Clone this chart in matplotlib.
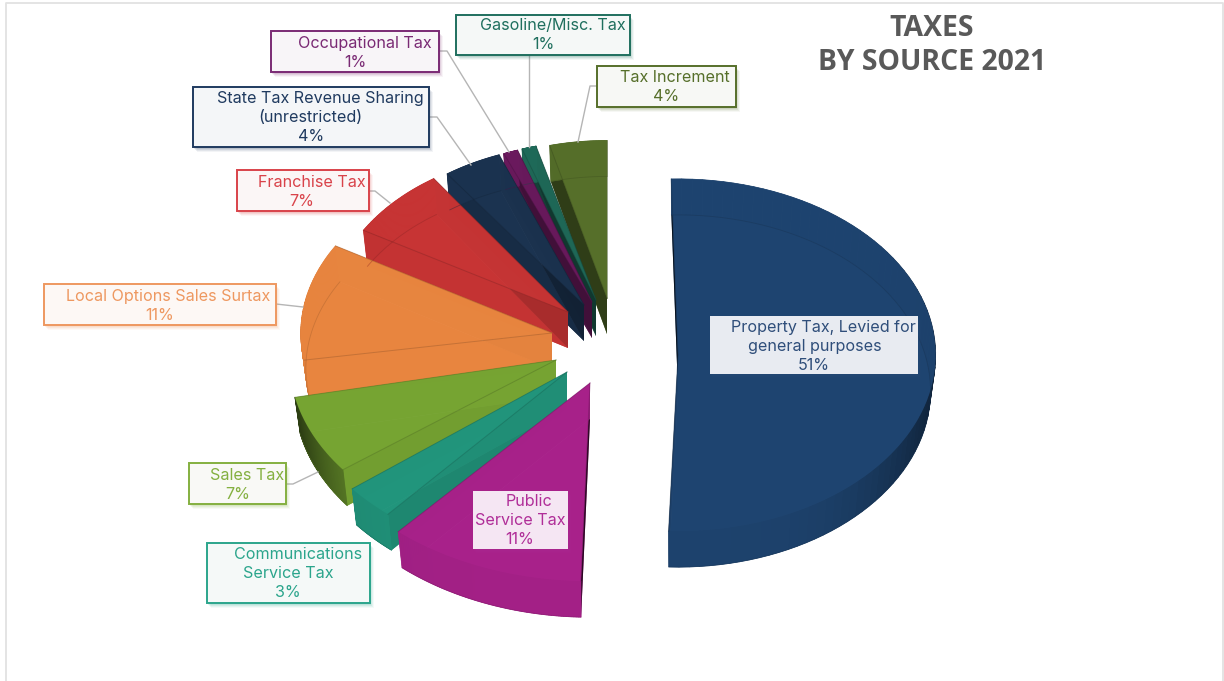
import numpy as np
import matplotlib
matplotlib.use("Agg")
import matplotlib.pyplot as plt
from matplotlib.patches import Polygon, Rectangle
from matplotlib.colors import to_rgb

categories = [
    "Property Tax, Levied for\ngeneral purposes",
    "Public\nService Tax",
    "Communications\nService Tax",
    "Sales Tax",
    "Local Options Sales Surtax",
    "Franchise Tax",
    "State Tax Revenue Sharing\n(unrestricted)",
    "Occupational Tax",
    "Gasoline/Misc. Tax",
    "Tax Increment",
]
percent = [51, 11, 3, 7, 11, 7, 4, 1, 1, 4]

colors = ["#1E4470", "#A8218A", "#21957C", "#76A432", "#E8853F",
          "#C73434", "#1B3350", "#6B1A5E", "#1F6A59", "#566F2A"]
text_colors = ["#2F4E7A", "#B02E98", "#2BA58C", "#84B040", "#EE9860",
               "#D9434A", "#1F3A5F", "#7A2A74", "#1F6F5E", "#566F2A"]
box_fills = ["#E8EBF1", "#F5E6F3", "#F5F9F8", "#F9F9F6", "#FDF8F5",
             "#FBF6F6", "#F4F6F8", "#F8F5F8", "#F5F8F7", "#F7F8F5"]

# each slice is pulled out from the middle of the pie and drawn nearer/farther
apex_x = [678, 590, 567, 556, 552, 568, 584, 592, 596, 607]
apex_y = [355, 383, 372, 360, 333, 312, 305, 302, 300, 298]
scale = [0.995, 1.12, 1.06, 1.03, 0.97, 0.915, 0.91, 0.905, 0.9, 0.89]
twist = [0, -0.3, -1, 0.5, 3.2, 3, 2, 1, 1, 1.5]
rim_shade = [0.45, 0.1, 0.1, 0.65, 0.0, 0.0, 0.0, 0.0, 0.0, 0.0]
draw_order = [9, 8, 7, 6, 5, 4, 3, 2, 1, 0]

radius_x = 259
radius_y = 177
depth = 36
start_angle = -1.5

# label boxes: x0, y0, x1, y1
boxes = [
    (710, 316, 918, 374), (473, 491, 568, 549), (207, 543, 370, 603),
    (189, 463, 286, 504), (44, 284, 276, 325), (237, 170, 369, 211),
    (193, 87, 429, 147), (271, 31, 439, 72), (456, 15, 630, 55),
    (597, 66, 736, 107),
]
# centre x of each text line and y of the first line
line_x = [
    (823, 815, 814), (529, 520, 520), (298, 288, 288), (247, 238),
    (168, 160), (312, 302), (320, 310, 311), (365, 355), (553, 543),
    (675, 666),
]
line_y = [327.5, 501.5, 554.5, 475.5, 296.5, 182.5, 98.5, 43.5, 25.5, 77.5]
line_step = 19

leaders = [
    [(529, 55), (529, 147)],
    [(439, 51), (447, 51), (509, 152)],
    [(429, 117), (437, 117), (471, 165)],
    [(369, 191), (375, 191), (390, 203)],
    [(276, 304), (303, 307)],
    [(286, 484), (293, 484), (318, 472)],
    [(597, 86), (590, 86), (578, 142)],
]


def darken(color, amount):
    return tuple(c * (1 - amount) for c in to_rgb(color))


def wall_dark(theta):
    s = abs(np.sin(np.radians(theta)))
    return 0.85 * (1 - s) ** 2


def arc(i, t, shrink=1.0, drop=0):
    # lower rim sits a little narrower than the top one, same height
    r = np.radians(t)
    x = apex_x[i] + radius_x * scale[i] * shrink * np.sin(r)
    y = apex_y[i] - radius_y * scale[i] * np.cos(r) + drop
    return x, y


fig = plt.figure(figsize=(12.24, 6.81), dpi=100)
ax = fig.add_axes([0, 0, 1, 1])
ax.set_xlim(0, 1224)
ax.set_ylim(681, 0)
ax.axis("off")

# frame of the chart area
ax.plot([6, 6, 1222.5, 1222.5], [681, 2.5, 2.5, 681], color="#E2E2E2", lw=1.3)

edges = np.cumsum([0] + percent) / sum(percent) * 360 + start_angle

for i in draw_order:
    c = colors[i]
    a0, a1 = edges[i] + twist[i], edges[i + 1] + twist[i]
    t = np.linspace(a0, a1, 80)
    xt, yt = arc(i, t)
    xb, yb = arc(i, t, 0.98, depth)
    ax0, ay0 = apex_x[i], apex_y[i]

    # underside
    ax.add_patch(Polygon(np.c_[np.r_[ax0, xb], np.r_[ay0 + depth, yb]],
                         fc=c, ec="none", alpha=0.95))

    # straight walls on both cut edges
    for a in (a0, a1):
        xe, ye = arc(i, a)
        xf, yf = arc(i, a, 0.98, depth)
        ax.add_patch(Polygon([(ax0, ay0), (xe, ye), (xf, yf), (ax0, ay0 + depth)],
                             fc=darken(c, wall_dark(a)), ec="none", alpha=0.95))

    # rim, shaded in strips
    for j in range(len(t) - 1):
        shade = darken(c, 0.03 + rim_shade[i] * np.sin(np.radians(t[j])) ** 4)
        ax.add_patch(Polygon([(xt[j], yt[j]), (xt[j + 1], yt[j + 1]),
                              (xb[j + 1], yb[j + 1]), (xb[j], yb[j])],
                             fc=shade, ec=shade, lw=0.5))

    # top face
    ax.add_patch(Polygon(np.c_[np.r_[ax0, xt], np.r_[ay0, yt]],
                         fc=c, ec="none", alpha=0.93))

    # faint outline of the lower edges showing through
    line_c = darken(c, 0.3)
    ax.plot(xb, yb, color=line_c, lw=0.6, alpha=0.4)
    for a in (a0, a1):
        xe, ye = arc(i, a)
        ax.plot([ax0, xe], [ay0, ye], color=line_c, lw=0.7, alpha=0.5)

for pts in leaders:
    xs, ys = zip(*pts)
    ax.plot(xs, ys, color="#B5B5B5", lw=1.0, zorder=3)

for i, name in enumerate(categories):
    x0, y0, x1, y1 = boxes[i]
    # soft drop shadow
    for off, al in ((5, 0.05), (4, 0.08), (3, 0.10), (2, 0.12)):
        ax.add_patch(Rectangle((x0 + off - 1, y0 + off), x1 - x0, y1 - y0,
                               fc=text_colors[i], ec="none", alpha=al, zorder=4))
    edge = "none" if i < 2 else text_colors[i]
    ax.add_patch(Rectangle((x0, y0), x1 - x0, y1 - y0, fc=box_fills[i],
                           ec=edge, lw=1.4, zorder=5))
    lines = name.split("\n") + [f"{percent[i]}%"]
    for k, line in enumerate(lines):
        ax.text(line_x[i][k], line_y[i] + k * line_step, line, color=text_colors[i],
                family="Inter", fontsize=11.6, ha="center", va="center", zorder=6)

ax.text(932, 28.5, "TAXES", color="#595959", family="Open Sans", weight="bold",
        fontsize=20.4, ha="center", va="center")
ax.text(932, 62, "BY SOURCE 2021", color="#595959", family="Open Sans", weight="bold",
        fontsize=20.4, ha="center", va="center")

fig.savefig("out.png", dpi=100)
